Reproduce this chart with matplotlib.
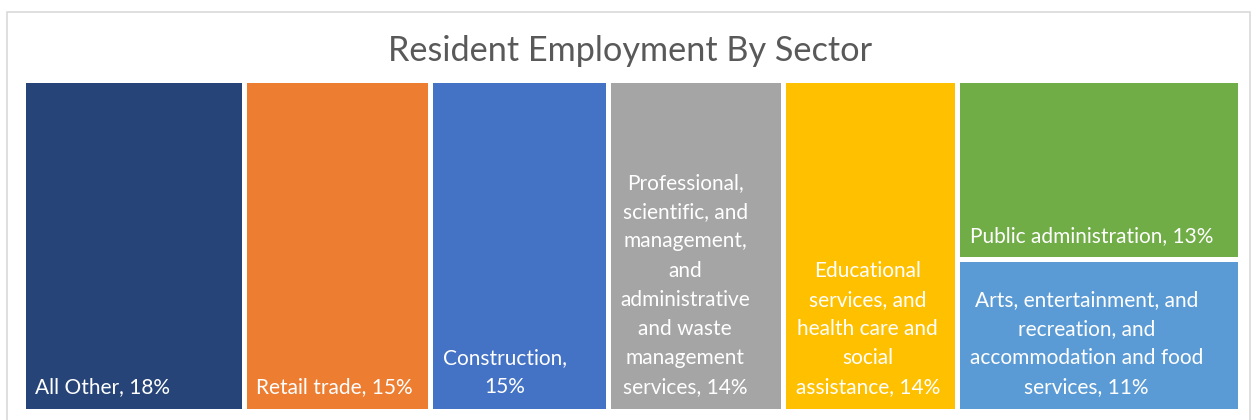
import matplotlib
matplotlib.use("Agg")
import matplotlib.pyplot as plt
from matplotlib.patches import Rectangle

sectors = ["All Other", "Retail trade", "Construction,\n",
           "Professional,\nscientific, and\nmanagement,\nand\nadministrative\nand waste\nmanagement\nservices",
           "Educational\nservices, and\nhealth care and\nsocial\nassistance",
           "Public administration",
           "Arts, entertainment, and\nrecreation, and\naccommodation and food\nservices"]
values = [18.2, 15.3, 14.6, 14.4, 14.3, 12.6, 10.6]
pct_labels = ["18%", "15%", "15%", "14%", "14%", "13%", "11%"]
colors = ["#264478", "#ED7D31", "#4472C4", "#A5A5A5", "#FFC000", "#70AD47", "#5B9BD5"]

plt.rcParams['font.family'] = ['Lato', 'DejaVu Sans']

W, H = 1256, 420
fig = plt.figure(figsize=(W / 100, H / 100), dpi=100)

# light frame around the chart
fig.patches.append(Rectangle((7 / W, -0.01), (W - 13) / W, (H - 12) / H + 0.01,
                             transform=fig.transFigure, fill=False,
                             edgecolor="#D9D9D9", linewidth=1.2))

fig.text(0.502, (H - 61) / H, "Resident Employment By Sector", ha="center", va="baseline",
         fontsize=24.7, color="#595959")

# plot area (pixels), padded by half a gap so the white edges sit inside
gap = 5
x0, x1, y0, y1 = 25 - gap / 2, 1237 + gap / 2, 82 - gap / 2, 408 + gap / 2
ax = fig.add_axes([x0 / W, (H - y1) / H, (x1 - x0) / W, (y1 - y0) / H])
ax.set_xlim(0, x1 - x0)
ax.set_ylim(y1 - y0, 0)
ax.axis("off")
aw, ah = x1 - x0, y1 - y0

total = sum(values)
rects = []
# first five sectors: full-height columns
x = 0
for v in values[:5]:
    w = v / total * aw
    rects.append((x, 0, w, ah))
    x += w
# last two: stacked in the remaining column
w = aw - x
last = values[5:]
y = 0
for v in last:
    h = v / sum(last) * ah
    rects.append((x, y, w, h))
    y += h

for (rx, ry, rw, rh), name, pct, c in zip(rects, sectors, pct_labels, colors):
    ax.add_patch(Rectangle((rx, ry), rw, rh, facecolor=c, edgecolor="white",
                           linewidth=gap * 0.72))
    sep = "" if name.endswith("\n") else ", "
    ax.text(rx + gap / 2 + 10, ry + rh - gap / 2 - 11, name + sep + pct, ha="left", va="bottom",
            multialignment="center", fontsize=15, color="white", linespacing=1.57)

fig.savefig("out.png", dpi=100)
